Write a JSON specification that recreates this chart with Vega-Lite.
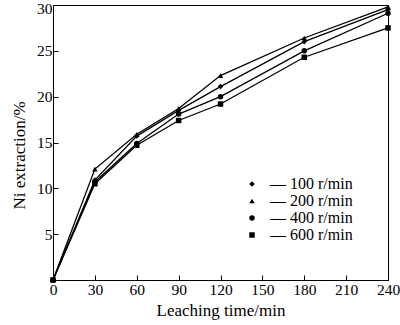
{
  "$schema": "https://vega.github.io/schema/vega-lite/v6.json",
  "width": 335,
  "height": 275,
  "autosize": "none",
  "padding": {"left": 53, "top": 5, "right": 12, "bottom": 45},
  "background": "white",
  "config": {
    "view": {"stroke": "black", "strokeWidth": 1},
    "font": "Liberation Serif",
    "axis": {"labelFont": "Liberation Serif", "titleFont": "Liberation Serif", "labelFontSize": 15.5, "titleFontSize": 17, "titleFontWeight": "normal", "labelColor": "black", "titleColor": "black", "domainColor": "black", "tickColor": "black", "grid": false},
    "legend": {"labelFont": "Liberation Serif", "labelFontSize": 16, "labelColor": "black"}
  },
  "data": {"values": [
    {"t": 0, "y": 0, "s": "100 r/min"},
    {"t": 30, "y": 10.9, "s": "100 r/min"},
    {"t": 60, "y": 15.7, "s": "100 r/min"},
    {"t": 90, "y": 18.5, "s": "100 r/min"},
    {"t": 120, "y": 21.1, "s": "100 r/min"},
    {"t": 180, "y": 26.0, "s": "100 r/min"},
    {"t": 240, "y": 29.5, "s": "100 r/min"},
    {"t": 0, "y": 0, "s": "200 r/min"},
    {"t": 30, "y": 12.1, "s": "200 r/min"},
    {"t": 60, "y": 15.9, "s": "200 r/min"},
    {"t": 90, "y": 18.7, "s": "200 r/min"},
    {"t": 120, "y": 22.3, "s": "200 r/min"},
    {"t": 180, "y": 26.4, "s": "200 r/min"},
    {"t": 240, "y": 29.8, "s": "200 r/min"},
    {"t": 0, "y": 0, "s": "400 r/min"},
    {"t": 30, "y": 10.7, "s": "400 r/min"},
    {"t": 60, "y": 14.9, "s": "400 r/min"},
    {"t": 90, "y": 18.1, "s": "400 r/min"},
    {"t": 120, "y": 20.0, "s": "400 r/min"},
    {"t": 180, "y": 25.0, "s": "400 r/min"},
    {"t": 240, "y": 29.1, "s": "400 r/min"},
    {"t": 0, "y": 0, "s": "600 r/min"},
    {"t": 30, "y": 10.5, "s": "600 r/min"},
    {"t": 60, "y": 14.7, "s": "600 r/min"},
    {"t": 90, "y": 17.4, "s": "600 r/min"},
    {"t": 120, "y": 19.2, "s": "600 r/min"},
    {"t": 180, "y": 24.3, "s": "600 r/min"},
    {"t": 240, "y": 27.5, "s": "600 r/min"}
  ]},
  "encoding": {
    "x": {"field": "t", "type": "quantitative", "scale": {"domain": [0, 240], "nice": false},
      "axis": {"title": "Leaching time/min", "values": [0, 30, 60, 90, 120, 150, 180, 210, 240], "tickSize": -5, "labelPadding": 7, "titlePadding": 5, "labelFlush": false}},
    "y": {"field": "y", "type": "quantitative", "scale": {"domain": [0, 30], "nice": false},
      "axis": {"title": "Ni extraction/%", "values": [5, 10, 15, 20, 25, 30], "tickSize": -5, "labelPadding": 6, "titlePadding": 8, "titleY": 150, "labelFlush": false,
        "labelOffset": {"condition": {"test": "datum.value == 30", "value": 3}, "value": 0}}},
    "detail": {"field": "s"}
  },
  "layer": [
    {"mark": {"type": "line", "color": "black", "strokeWidth": 1.3}},
    {"mark": {"type": "point", "filled": true, "color": "black", "opacity": 1, "size": 30},
      "encoding": {
        "shape": {"field": "s", "type": "nominal",
          "scale": {"domain": ["100 r/min", "200 r/min", "400 r/min", "600 r/min"], "range": ["diamond", "triangle-up", "circle", "square"]},
          "legend": {"title": null, "orient": "none", "legendX": 191, "legendY": 171, "labelExpr": "'—  ' + datum.label", "symbolSize": 30, "symbolFillColor": "black", "symbolStrokeColor": "black", "rowPadding": 1, "labelOffset": 10}}
      }}
  ]
}
